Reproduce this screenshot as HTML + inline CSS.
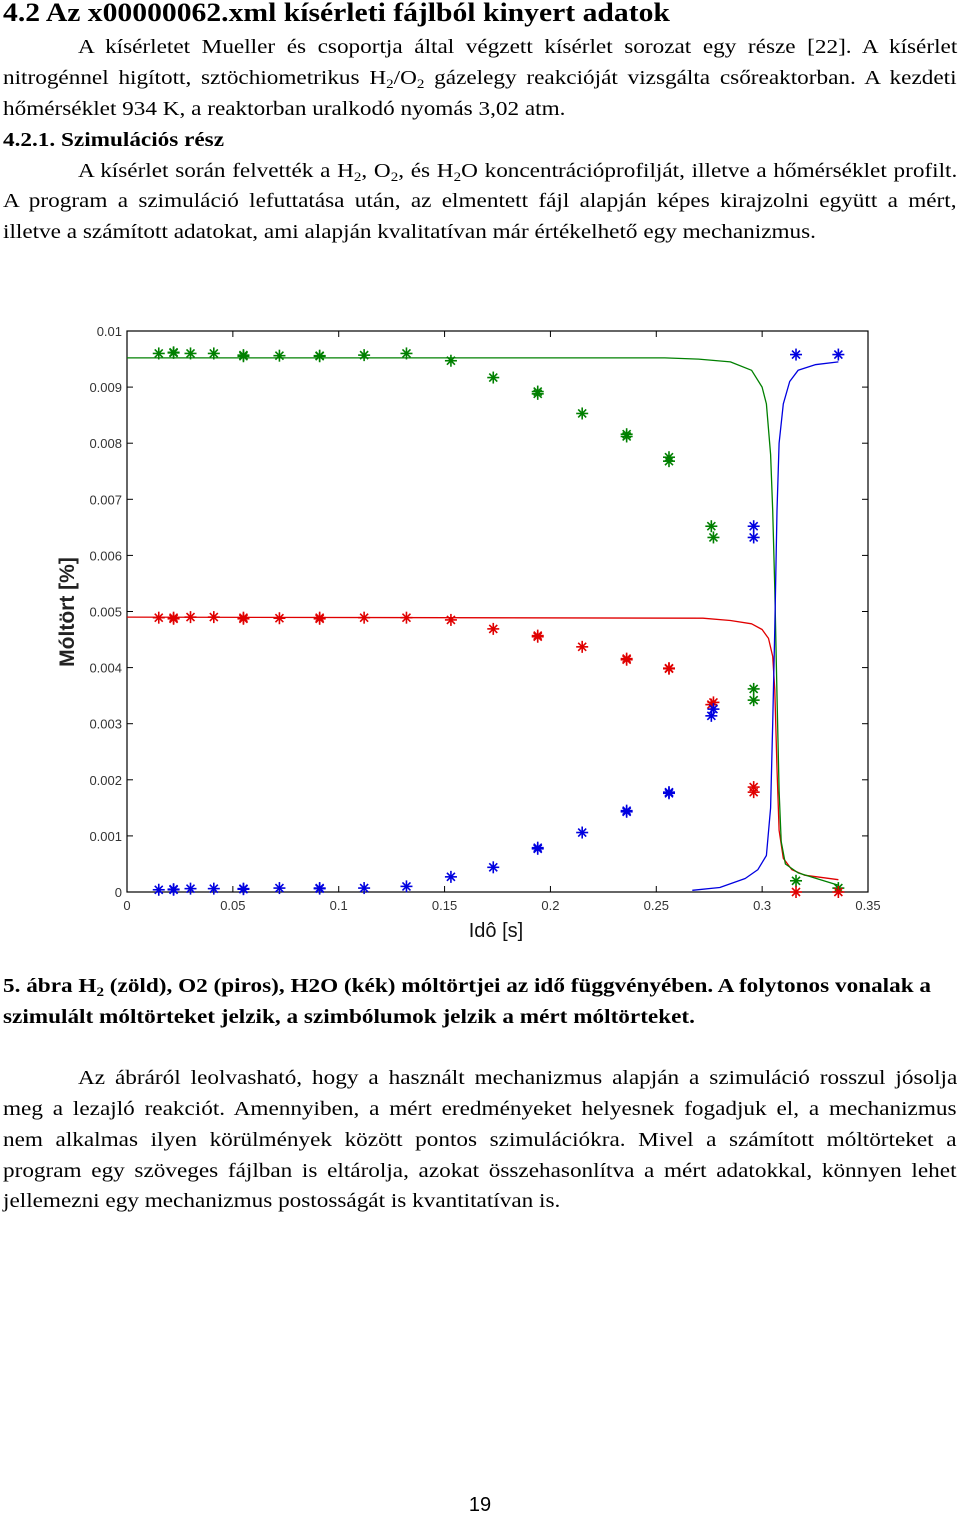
<!DOCTYPE html>
<html><head><meta charset="utf-8">
<style>
body{margin:0;width:960px;height:1517px;background:#fff;position:relative;font-family:"Liberation Serif",serif;color:#000;overflow:hidden}
.l{position:absolute;left:3px;width:822px;font-size:20px;line-height:24px;white-space:nowrap;transform:scaleX(1.16);transform-origin:0 0}
.j{text-align:justify;text-align-last:justify;white-space:normal}
.b{font-weight:bold}
sub{font-size:13px;vertical-align:-4px;line-height:0}
</style></head><body>
<div class="l b" style="top:-1px;font-size:26px;line-height:28px;transform:scaleX(1.14)">4.2 Az x00000062.xml kísérleti fájlból kinyert adatok</div>
<div class="l j" style="top:35px;left:78px;width:758px">A kísérletet Mueller és csoportja által végzett kísérlet sorozat egy része [22]. A kísérlet</div>
<div class="l j" style="top:66px">nitrogénnel higított, sztöchiometrikus H<sub>2</sub>/O<sub>2</sub> gázelegy reakcióját vizsgálta csőreaktorban. A kezdeti</div>
<div class="l" style="top:97px">hőmérséklet 934 K, a reaktorban uralkodó nyomás 3,02 atm.</div>
<div class="l b" style="top:128px">4.2.1. Szimulációs rész</div>
<div class="l j" style="top:159px;left:78px;width:758px">A kísérlet során felvették a H<sub>2</sub>, O<sub>2</sub>, és H<sub>2</sub>O koncentrációprofilját, illetve a hőmérséklet profilt.</div>
<div class="l j" style="top:189px">A program a szimuláció lefuttatása után, az elmentett fájl alapján képes kirajzolni együtt a mért,</div>
<div class="l" style="top:220px">illetve a számított adatokat, ami alapján kvalitatívan már értékelhető egy mechanizmus.</div>

<svg id="chart" style="position:absolute;left:0;top:300px" width="960" height="660" viewBox="0 300 960 660" font-family="Liberation Sans, sans-serif"></svg>

<div class="l b" style="top:974px">5. ábra H<sub>2</sub> (zöld), O2 (piros), H2O (kék) móltörtjei az idő függvényében. A folytonos vonalak a</div>
<div class="l b" style="top:1005px">szimulált móltörteket jelzik, a szimbólumok jelzik a mért móltörteket.</div>
<div class="l j" style="top:1066px;left:78px;width:758px">Az ábráról leolvasható, hogy a használt mechanizmus alapján a szimuláció rosszul jósolja</div>
<div class="l j" style="top:1097px">meg a lezajló reakciót. Amennyiben, a mért eredményeket helyesnek fogadjuk el, a mechanizmus</div>
<div class="l j" style="top:1128px">nem alkalmas ilyen körülmények között pontos szimulációkra. Mivel a számított móltörteket a</div>
<div class="l j" style="top:1159px">program egy szöveges fájlban is eltárolja, azokat összehasonlítva a mért adatokkal, könnyen lehet</div>
<div class="l" style="top:1189px">jellemezni egy mechanizmus postosságát is kvantitatívan is.</div>
<div style="position:absolute;top:1494px;left:0;width:960px;text-align:center;font-family:'Liberation Sans',sans-serif;font-size:20px">19</div>

<script>
const xTicks=[0,0.05,0.1,0.15,0.2,0.25,0.3,0.35];
const xTickLabels=["0","0.05","0.1","0.15","0.2","0.25","0.3","0.35"];
const yTicks=[0,0.001,0.002,0.003,0.004,0.005,0.006,0.007,0.008,0.009,0.01];
const yTickLabels=["0","0.001","0.002","0.003","0.004","0.005","0.006","0.007","0.008","0.009","0.01"];
const measTime=[0.015,0.022,0.030,0.041,0.055,0.072,0.091,0.112,0.132,0.153,0.173,0.194,0.215,0.236,0.256,0.276,0.296,0.316,0.336];
const measH2=[0.0096,0.00961,0.0096,0.0096,0.00957,0.00956,0.00956,0.00957,0.0096,0.00947,0.00917,0.00892,0.00853,0.00816,0.00775,0.00652,0.00362,0.0002,0.00007];
const measO2=[0.00489,0.00489,0.0049,0.0049,0.00489,0.00488,0.00489,0.00489,0.00489,0.00485,0.00469,0.00457,0.00437,0.00416,0.00399,0.00334,0.00187,0,0];
const measH2O=[0.00004,0.00005,0.00006,0.00006,0.00006,0.00007,0.00007,0.00007,0.0001,0.00027,0.00044,0.00077,0.00106,0.00143,0.00176,0.00314,0.00652,0.00958,0.00958];
const repTime=[0.022,0.055,0.091,0.194,0.236,0.256,0.277,0.296];
const repH2=[0.00962,0.00955,0.00955,0.00888,0.00812,0.00768,0.00632,0.00342];
const repO2=[0.00487,0.00487,0.00487,0.00455,0.00414,0.00398,0.00338,0.00178];
const repH2O=[0.00004,0.00005,0.00006,0.00079,0.00145,0.00178,0.00326,0.00632];
const simTimeH2=[0,0.254,0.27,0.285,0.295,0.300,0.302,0.304,0.305,0.306,0.307,0.308,0.309,0.311,0.317,0.336];
const simH2=[0.00952,0.00952,0.0095,0.00945,0.0093,0.0090,0.0087,0.0078,0.0068,0.0054,0.0035,0.0018,0.0009,0.0005,0.00034,0.00012];
const simTimeO2=[0,0.272,0.285,0.295,0.300,0.303,0.305,0.306,0.307,0.308,0.310,0.314,0.320,0.336];
const simO2=[0.0049,0.00488,0.00484,0.00478,0.00468,0.00452,0.0042,0.0036,0.0022,0.0011,0.0006,0.0004,0.0003,0.00022];
const simTimeH2O=[0.267,0.28,0.292,0.298,0.302,0.304,0.305,0.306,0.307,0.308,0.310,0.313,0.317,0.325,0.336];
const simH2O=[0.00003,0.00008,0.00024,0.0004,0.00065,0.0015,0.003,0.0047,0.0068,0.008,0.0087,0.0091,0.0093,0.0094,0.00945];

const X0=127,X1=868,Y0=892,Y1=331;
const sx=v=>X0+(v-0)/(0.35)*(X1-X0);
const sy=v=>Y0-(v/0.01)*(Y0-Y1);
const svg=document.getElementById('chart');
const NS='http://www.w3.org/2000/svg';
function mk(t,a,p){const e=document.createElementNS(NS,t);for(const k in a)e.setAttribute(k,a[k]);(p||svg).appendChild(e);return e;}

const frame=mk('rect',{x:X0,y:Y1,width:X1-X0,height:Y0-Y1,fill:'none',stroke:'#000','stroke-width':1.2});



xTicks.forEach((v,i)=>{
  const x=sx(v);
  const t1=mk('line',{x1:x,x2:x,y1:Y0,y2:Y0-6,stroke:'#000'});
  
  
  const t2=mk('line',{x1:x,x2:x,y1:Y1,y2:Y1+6,stroke:'#000'});
  
  
  const tx=mk('text',{x:x,y:Y0+18,'text-anchor':'middle','font-size':13,fill:'#333'});
  tx.textContent=xTickLabels[i];
  
  
});
yTicks.forEach((v,i)=>{
  const y=sy(v);
  const t1=mk('line',{x1:X0,x2:X0+6,y1:y,y2:y,stroke:'#000'});
  
  
  const t2=mk('line',{x1:X1,x2:X1-6,y1:y,y2:y,stroke:'#000'});
  
  
  const tx=mk('text',{x:X0-5,y:y+5,'text-anchor':'end','font-size':13,fill:'#333'});
  tx.textContent=yTickLabels[i];
  
  
});
const xt=mk('text',{x:496,y:937,'text-anchor':'middle','font-size':20,fill:'#111'});
xt.textContent='Idô [s]';


const yt=mk('text',{x:74,y:612,'text-anchor':'middle','font-size':21,'font-weight':'bold',fill:'#222',transform:'rotate(-90 74 612)'});
yt.textContent='Móltört [%]';



function line(ts,vs,col,name){
  const d=ts.map((t,i)=>(i?'L':'M')+sx(t).toFixed(1)+' '+sy(vs[i]).toFixed(1)).join(' ');
  const p=mk('path',{d:d,fill:'none',stroke:col,'stroke-width':1.3,'stroke-linejoin':'round'});
  
  
}
line(simTimeO2,simO2,'#e00000','sim-line-o2');
line(simTimeH2,simH2,'#008000','sim-line-h2');
line(simTimeH2O,simH2O,'#0000e0','sim-line-h2o');

function stars(ts,vs,col,name){
  vs.forEach((v,i)=>{
    const x=sx(ts[i]),y=sy(v),r=6;
    const g=mk('g',{stroke:col,'stroke-width':1.6});
    
    
    mk('line',{x1:x-r,x2:x+r,y1:y,y2:y},g);
    mk('line',{x1:x,x2:x,y1:y-r,y2:y+r},g);
    mk('line',{x1:x-4,x2:x+4,y1:y-4,y2:y+4},g);
    mk('line',{x1:x-4,x2:x+4,y1:y+4,y2:y-4},g);
  });
}
stars(measTime,measH2,'#008000','marker-h2');
stars(repTime,repH2,'#008000','marker-h2-replicate');
stars(measTime,measO2,'#e00000','marker-o2');
stars(repTime,repO2,'#e00000','marker-o2-replicate');
stars(measTime,measH2O,'#0000e0','marker-h2o');
stars(repTime,repH2O,'#0000e0','marker-h2o-replicate');
</script>
</body></html>
